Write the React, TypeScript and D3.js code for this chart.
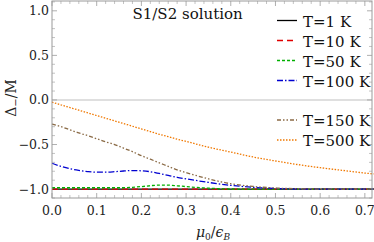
import React from 'react';
import * as d3 from 'd3';

// chemical potential grid (mu0 / eps_B)
const mu = [0, 0.02, 0.04, 0.06, 0.08, 0.1, 0.12, 0.14, 0.16, 0.18, 0.2, 0.22, 0.24, 0.26, 0.28, 0.3, 0.35, 0.4, 0.45, 0.5, 0.55, 0.6, 0.65, 0.7, 0.72];

const t1 = [-1, -1, -1, -1, -1, -1, -1, -1, -1, -1, -1, -1, -1, -1, -1, -1, -1, -1, -1, -1, -1, -1, -1, -1, -1];
const t10 = [-1, -1, -1, -1, -1, -1, -1, -1, -1, -1, -1, -1, -1, -1, -1, -1, -1, -1, -1, -1, -1, -1, -1, -1, -1];
const t50 = [-0.985, -0.985, -0.985, -0.985, -0.985, -0.985, -0.985, -0.985, -0.985, -0.98, -0.972, -0.962, -0.955, -0.956, -0.963, -0.972, -0.99, -0.999, -1, -1, -1, -1, -1, -1, -1];
const t100 = [-0.71, -0.745, -0.772, -0.79, -0.803, -0.81, -0.81, -0.805, -0.797, -0.792, -0.795, -0.805, -0.825, -0.847, -0.868, -0.885, -0.925, -0.958, -0.98, -0.993, -0.999, -1, -1, -1, -1];
const t150 = [-0.27, -0.3, -0.335, -0.37, -0.4, -0.435, -0.47, -0.5, -0.54, -0.58, -0.625, -0.665, -0.705, -0.745, -0.785, -0.815, -0.885, -0.94, -0.97, -0.988, -0.996, -1, -1, -1, -1];
const t500 = [-0.025, -0.055, -0.085, -0.115, -0.145, -0.175, -0.205, -0.235, -0.265, -0.295, -0.325, -0.355, -0.385, -0.412, -0.44, -0.465, -0.53, -0.585, -0.64, -0.685, -0.725, -0.76, -0.79, -0.82, -0.83];

const labels = ['T=1 K', 'T=10 K', 'T=50 K', 'T=100 K', 'T=150 K', 'T=500 K'];
const xTicks = [0, 0.1, 0.2, 0.3, 0.4, 0.5, 0.6, 0.7];
const yTicks = [-1, -0.5, 0, 0.5, 1];

const series = [
  { values: t1, color: '#000000', dash: null },
  { values: t10, color: '#e00000', dash: '6,4' },
  { values: t50, color: '#00b000', dash: '3,2' },
  { values: t100, color: '#0000d0', dash: '6,2,1.5,2' },
  { values: t150, color: '#8a6a45', dash: '4,2,1.5,2,1.5,2' },
  { values: t500, color: '#f07800', dash: '1.5,1.5' },
];
const legendY = [20.5, 40.5, 60.5, 80.5, 120, 140];

const fmt = (v: number) => (v < 0 ? '\u2212' : '') + Math.abs(v).toFixed(1);

const FONT = "'DejaVu Serif', serif";

export default function App() {
  const width = 374;
  const height = 242;
  const left = 52;
  const right = 372;
  const top = 1;
  const bottom = 198;

  const x = d3.scaleLinear().domain([0, 0.716]).range([left, right]);
  const y = d3.scaleLinear().domain([-1.1, 1.11]).range([bottom, top]);

  const line = d3
    .line<number>()
    .x((_, i) => x(mu[i]))
    .y((d) => y(d))
    .curve(d3.curveMonotoneX);

  const xMinor = d3.range(0, 0.72, 0.02).filter((v) => Math.abs(v * 10 - Math.round(v * 10)) > 1e-6);
  const yMinor = d3.range(-1.1, 1.11, 0.1).filter((v) => Math.abs(v * 2 - Math.round(v * 2)) > 1e-6);

  const frame = '#9a9a9a';

  return (
    <svg width={width} height={height} style={{ position: 'absolute', left: 0, top: 0 }}>
      <rect x={0} y={0} width={width} height={height} fill="#fff" />
      {/* zero axis */}
      <line x1={left} x2={right} y1={y(0)} y2={y(0)} stroke="#d4d4d4" strokeWidth={1.6} />

      {/* frame ticks */}
      {xTicks.map((t) => (
        <g key={'xt' + t}>
          <line x1={x(t)} x2={x(t)} y1={bottom} y2={bottom - 5} stroke={frame} strokeWidth={0.8} />
          <line x1={x(t)} x2={x(t)} y1={top} y2={top + 5} stroke={frame} strokeWidth={0.8} />
        </g>
      ))}
      {xMinor.map((t) => (
        <g key={'xm' + t}>
          <line x1={x(t)} x2={x(t)} y1={bottom} y2={bottom - 3} stroke={frame} strokeWidth={0.6} />
          <line x1={x(t)} x2={x(t)} y1={top} y2={top + 3} stroke={frame} strokeWidth={0.6} />
        </g>
      ))}
      {yTicks.map((t) => (
        <g key={'yt' + t}>
          <line x1={left} x2={left + 5} y1={y(t)} y2={y(t)} stroke={frame} strokeWidth={0.8} />
          <line x1={right} x2={right - 5} y1={y(t)} y2={y(t)} stroke={frame} strokeWidth={0.8} />
        </g>
      ))}
      {yMinor.map((t) => (
        <g key={'ym' + t}>
          <line x1={left} x2={left + 3} y1={y(t)} y2={y(t)} stroke={frame} strokeWidth={0.6} />
          <line x1={right} x2={right - 3} y1={y(t)} y2={y(t)} stroke={frame} strokeWidth={0.6} />
        </g>
      ))}

      {/* curves */}
      {series.map((s, i) => (
        <path
          key={'s' + i}
          d={line(s.values) || ''}
          fill="none"
          stroke={s.color}
          strokeWidth={1.3}
          strokeDasharray={s.dash || undefined}
        />
      ))}

      {/* frame */}
      <rect x={left} y={top} width={right - left} height={bottom - top} fill="none" stroke={frame} strokeWidth={1} />

      {/* tick labels */}
      {xTicks.map((t) => (
        <text key={'xl' + t} x={x(t)} y={214.5} textAnchor="middle" fontFamily={FONT} fontSize={12.5} fill="#222">
          {t.toFixed(1)}
        </text>
      ))}
      {yTicks.map((t) => (
        <text key={'yl' + t} x={49} y={y(t) + 4.5} textAnchor="end" fontFamily={FONT} fontSize={12.5} fill="#222">
          {fmt(t)}
        </text>
      ))}

      {/* axis labels */}
      <text transform="translate(16,98) rotate(-90)" textAnchor="middle" fontFamily={FONT} fontSize={14} fill="#222">
        {'\u0394'}
        <tspan fontSize={10} dy={3}>{'\u2212'}</tspan>
        <tspan dy={-3}>/M</tspan>
      </text>
      <text x={213} y={237} textAnchor="middle" fontFamily={FONT} fontSize={14} fill="#222">
        <tspan fontStyle="italic">{'\u03bc'}</tspan>
        <tspan fontSize={9} dy={3}>0</tspan>
        <tspan dy={-3}>/</tspan>
        <tspan fontStyle="italic">{'\u03f5'}</tspan>
        <tspan fontSize={9} dy={3} fontStyle="italic">B</tspan>
      </text>

      {/* title */}
      <text x={132.5} y={19} fontFamily={FONT} fontSize={15} fill="#111">
        S1/S2 solution
      </text>

      {/* legend */}
      {series.map((s, i) => (
        <g key={'lg' + i}>
          <line
            x1={277}
            x2={297}
            y1={legendY[i]}
            y2={legendY[i]}
            stroke={s.color}
            strokeWidth={1.3}
            strokeDasharray={s.dash || undefined}
          />
          <text x={303} y={legendY[i] + 6} fontFamily={FONT} fontSize={15} fill="#111">
            {labels[i]}
          </text>
        </g>
      ))}
    </svg>
  );
}
